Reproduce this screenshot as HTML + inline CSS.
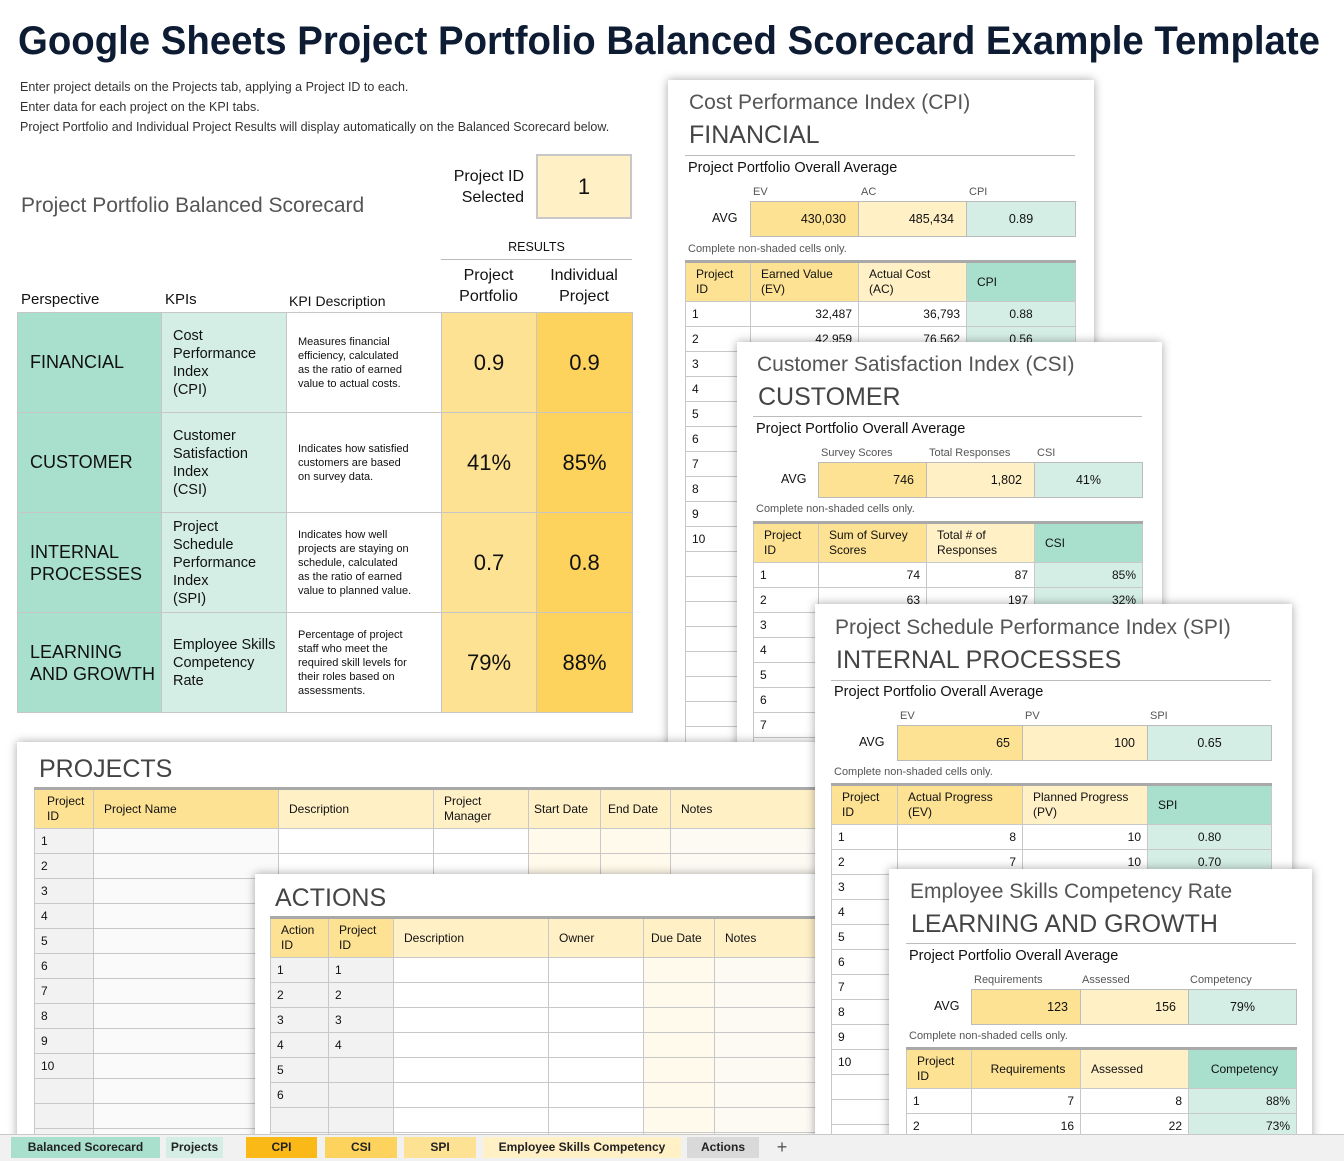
<!DOCTYPE html>
<html><head><meta charset="utf-8">
<style>
*{margin:0;padding:0;box-sizing:border-box}
body{width:1344px;height:1161px;position:relative;overflow:hidden;background:#fff;font-family:"Liberation Sans",sans-serif;color:#111}
.a{position:absolute;white-space:nowrap}
.panel{position:absolute;background:#fff;box-shadow:0 0 9px rgba(0,0,0,.35);overflow:hidden}
.ttl{position:absolute;font-size:21px;color:#555;white-space:nowrap}
.sub{position:absolute;font-size:25px;color:#444;white-space:nowrap}
.hl{position:absolute;height:1px;background:#bbb}
.ppoa{position:absolute;font-size:14.5px;color:#111;white-space:nowrap}
.lab{position:absolute;font-size:11px;color:#555;white-space:nowrap}
.note{position:absolute;font-size:11px;color:#555;white-space:nowrap}
table{position:absolute;border-collapse:collapse;table-layout:fixed}
td{border:1px solid #c8c8c8;font-size:12px;padding:0 6px;white-space:nowrap;overflow:hidden;line-height:15px}
tr.h td{border-top:3px solid #a9a9a9;height:40px;vertical-align:middle;padding-left:10px}
tr.r td{height:25px}
.y1{background:#fde293}.y2{background:#fff0c6}.t1{background:#a8dfcd}.t2{background:#d4eee5}.y0{background:#fdd35d}
.g1{background:#f2f2f2}.g0{background:#fafafa}.c1{background:#fffaeb}.c2{background:#fdf9f3}
.rt{text-align:right}.ct{text-align:center}
.avg td{height:35px;font-size:12.5px;border:1px solid #bbb}
.sc td{border:1px solid #c6c6c6;height:100px;vertical-align:middle}
.tab{position:absolute;top:1137px;height:21px;font-size:12px;text-align:center;line-height:21px;font-weight:bold;color:#222}
</style></head><body>

<svg class="a" style="left:0;top:0" width="1344" height="70"><text x="18" y="54" font-family="Liberation Sans" font-weight="bold" font-size="40" fill="#0d1b33" textLength="1302" lengthAdjust="spacingAndGlyphs">Google Sheets Project Portfolio Balanced Scorecard Example Template</text></svg>
<div class="a" style="left:20px;top:77px;font-size:12.5px;color:#333;line-height:20px">Enter project details on the Projects tab, applying a Project ID to each.<br>Enter data for each project on the KPI tabs.<br>Project Portfolio and Individual Project Results will display automatically on the Balanced Scorecard below.</div>

<div class="a" style="left:21px;top:194px;font-size:21px;color:#555">Project Portfolio Balanced Scorecard</div>
<div class="a" style="left:430px;top:166px;width:94px;text-align:right;font-size:16px;line-height:21px">Project ID<br>Selected</div>
<div class="a" style="left:536px;top:154px;width:96px;height:65px;background:#fff0c6;border:2px solid #c8c8c8;text-align:center;line-height:61px;font-size:22px">1</div>
<div class="a" style="left:441px;top:240px;width:191px;text-align:center;font-size:12.5px">RESULTS</div>
<div class="a" style="left:441px;top:259px;width:191px;height:1px;background:#bbb"></div>
<div class="a" style="left:441px;top:265px;width:95px;text-align:center;font-size:16px;line-height:21px">Project<br>Portfolio</div>
<div class="a" style="left:536px;top:265px;width:96px;text-align:center;font-size:16px;line-height:21px">Individual<br>Project</div>
<div class="a" style="left:21px;top:291px;font-size:15px">Perspective</div>
<div class="a" style="left:165px;top:291px;font-size:15px">KPIs</div>
<div class="a" style="left:289px;top:293px;font-size:14px">KPI Description</div>
<table class="sc" style="left:17px;top:312px;width:615px">
<colgroup><col style="width:144px"><col style="width:125px"><col style="width:155px"><col style="width:95px"><col style="width:96px"></colgroup>
<tr><td class="t1" style="font-size:18px;padding-left:12px">FINANCIAL</td><td class="t2" style="font-size:14.5px;line-height:18px;padding-left:11px">Cost<br>Performance<br>Index<br>(CPI)</td><td style="font-size:11px;line-height:14px;padding-left:11px">Measures financial<br>efficiency, calculated<br>as the ratio of earned<br>value to actual costs.</td><td class="y1 ct" style="font-size:22px">0.9</td><td class="y0 ct" style="font-size:22px">0.9</td></tr>
<tr><td class="t1" style="font-size:18px;padding-left:12px">CUSTOMER</td><td class="t2" style="font-size:14.5px;line-height:18px;padding-left:11px">Customer<br>Satisfaction<br>Index<br>(CSI)</td><td style="font-size:11px;line-height:14px;padding-left:11px">Indicates how satisfied<br>customers are based<br>on survey data.</td><td class="y1 ct" style="font-size:22px">41%</td><td class="y0 ct" style="font-size:22px">85%</td></tr>
<tr><td class="t1" style="font-size:18px;line-height:22px;padding-left:12px">INTERNAL<br>PROCESSES</td><td class="t2" style="font-size:14.5px;line-height:18px;padding-left:11px">Project<br>Schedule<br>Performance<br>Index<br>(SPI)</td><td style="font-size:11px;line-height:14px;padding-left:11px">Indicates how well<br>projects are staying on<br>schedule, calculated<br>as the ratio of earned<br>value to planned value.</td><td class="y1 ct" style="font-size:22px">0.7</td><td class="y0 ct" style="font-size:22px">0.8</td></tr>
<tr><td class="t1" style="font-size:18px;line-height:22px;padding-left:12px">LEARNING<br>AND GROWTH</td><td class="t2" style="font-size:14.5px;line-height:18px;padding-left:11px">Employee Skills<br>Competency<br>Rate</td><td style="font-size:11px;line-height:14px;padding-left:11px">Percentage of project<br>staff who meet the<br>required skill levels for<br>their roles based on<br>assessments.</td><td class="y1 ct" style="font-size:22px">79%</td><td class="y0 ct" style="font-size:22px">88%</td></tr>
</table>

<!-- CPI -->
<div class="panel" style="left:668px;top:80px;width:426px;height:670px">
<div class="ttl" style="left:21px;top:11px">Cost Performance Index (CPI)</div>
<div class="sub" style="left:21px;top:41px">FINANCIAL</div>
<div class="hl" style="left:17px;top:75px;width:390px"></div>
<div class="ppoa" style="left:20px;top:80px">Project Portfolio Overall Average</div>
<div class="lab" style="left:85px;top:106px">EV</div><div class="lab" style="left:193px;top:106px">AC</div><div class="lab" style="left:301px;top:106px">CPI</div>
<div class="a" style="left:44px;top:131px;font-size:12.5px">AVG</div>
<table class="avg" style="left:82px;top:121px;width:325px"><colgroup><col style="width:108px"><col style="width:108px"><col style="width:109px"></colgroup><tr><td class="y1 rt" style="padding-right:12px">430,030</td><td class="y2 rt" style="padding-right:12px">485,434</td><td class="t2 ct">0.89</td></tr></table>
<div class="note" style="left:20px;top:163px">Complete non-shaded cells only.</div>
<table style="left:17px;top:180px;width:390px"><colgroup><col style="width:65px"><col style="width:108px"><col style="width:108px"><col style="width:109px"></colgroup>
<tr class="h"><td class="y1">Project<br>ID</td><td class="y1">Earned Value<br>(EV)</td><td class="y2">Actual Cost<br>(AC)</td><td class="t1">CPI</td></tr>
<tr class="r"><td>1</td><td class="rt">32,487</td><td class="rt">36,793</td><td class="t2 ct">0.88</td></tr>
<tr class="r"><td>2</td><td class="rt">42,959</td><td class="rt">76,562</td><td class="t2 ct">0.56</td></tr>
<tr class="r"><td>3</td><td></td><td></td><td class="t2"></td></tr><tr class="r"><td>4</td><td></td><td></td><td class="t2"></td></tr><tr class="r"><td>5</td><td></td><td></td><td class="t2"></td></tr><tr class="r"><td>6</td><td></td><td></td><td class="t2"></td></tr><tr class="r"><td>7</td><td></td><td></td><td class="t2"></td></tr><tr class="r"><td>8</td><td></td><td></td><td class="t2"></td></tr><tr class="r"><td>9</td><td></td><td></td><td class="t2"></td></tr><tr class="r"><td>10</td><td></td><td></td><td class="t2"></td></tr><tr class="r"><td></td><td></td><td></td><td class="t2"></td></tr><tr class="r"><td></td><td></td><td></td><td class="t2"></td></tr><tr class="r"><td></td><td></td><td></td><td class="t2"></td></tr><tr class="r"><td></td><td></td><td></td><td class="t2"></td></tr><tr class="r"><td></td><td></td><td></td><td class="t2"></td></tr><tr class="r"><td></td><td></td><td></td><td class="t2"></td></tr><tr class="r"><td></td><td></td><td></td><td class="t2"></td></tr><tr class="r"><td></td><td></td><td></td><td class="t2"></td></tr><tr class="r"><td></td><td></td><td></td><td class="t2"></td></tr>
</table></div>

<!-- CSI -->
<div class="panel" style="left:737px;top:342px;width:425px;height:410px">
<div class="ttl" style="left:20px;top:11px">Customer Satisfaction Index (CSI)</div>
<div class="sub" style="left:21px;top:41px">CUSTOMER</div>
<div class="hl" style="left:16px;top:74px;width:389px"></div>
<div class="ppoa" style="left:19px;top:79px">Project Portfolio Overall Average</div>
<div class="lab" style="left:84px;top:105px">Survey Scores</div><div class="lab" style="left:192px;top:105px">Total Responses</div><div class="lab" style="left:300px;top:105px">CSI</div>
<div class="a" style="left:44px;top:130px;font-size:12.5px">AVG</div>
<table class="avg" style="left:81px;top:120px;width:324px"><colgroup><col style="width:108px"><col style="width:108px"><col style="width:108px"></colgroup><tr><td class="y1 rt" style="padding-right:12px">746</td><td class="y2 rt" style="padding-right:12px">1,802</td><td class="t2 ct">41%</td></tr></table>
<div class="note" style="left:19px;top:161px">Complete non-shaded cells only.</div>
<table style="left:16px;top:179px;width:389px"><colgroup><col style="width:65px"><col style="width:108px"><col style="width:108px"><col style="width:108px"></colgroup>
<tr class="h"><td class="y1">Project<br>ID</td><td class="y1">Sum of Survey<br>Scores</td><td class="y2">Total # of<br>Responses</td><td class="t1">CSI</td></tr>
<tr class="r"><td>1</td><td class="rt">74</td><td class="rt">87</td><td class="t2 rt">85%</td></tr>
<tr class="r"><td>2</td><td class="rt">63</td><td class="rt">197</td><td class="t2 rt">32%</td></tr>
<tr class="r"><td>3</td><td></td><td></td><td class="t2"></td></tr><tr class="r"><td>4</td><td></td><td></td><td class="t2"></td></tr><tr class="r"><td>5</td><td></td><td></td><td class="t2"></td></tr><tr class="r"><td>6</td><td></td><td></td><td class="t2"></td></tr><tr class="r"><td>7</td><td></td><td></td><td class="t2"></td></tr><tr class="r"><td>8</td><td></td><td></td><td class="t2"></td></tr>
</table></div>

<!-- PROJECTS -->
<div class="panel" style="left:17px;top:742px;width:900px;height:400px">
<div class="sub" style="left:22px;top:13px;color:#444">PROJECTS</div>
<table style="left:17px;top:45px;width:900px"><colgroup><col style="width:59px"><col style="width:185px"><col style="width:155px"><col style="width:95px"><col style="width:72px"><col style="width:70px"><col style="width:264px"></colgroup>
<tr class="h"><td class="y1" style="padding-left:12px">Project<br>ID</td><td class="y1">Project Name</td><td class="y2">Description</td><td class="y2">Project<br>Manager</td><td class="y2" style="padding-left:5px">Start Date</td><td class="y2" style="padding-left:7px">End Date</td><td class="y2">Notes</td></tr>
<tr class="r"><td class="g1">1</td><td class="g0"></td><td></td><td></td><td class="c1"></td><td class="c1"></td><td class="c2"></td></tr>
<tr class="r"><td class="g1">2</td><td class="g0"></td><td></td><td></td><td class="c1"></td><td class="c1"></td><td class="c2"></td></tr>
<tr class="r"><td class="g1">3</td><td class="g0"></td><td></td><td></td><td class="c1"></td><td class="c1"></td><td class="c2"></td></tr>
<tr class="r"><td class="g1">4</td><td class="g0"></td><td></td><td></td><td class="c1"></td><td class="c1"></td><td class="c2"></td></tr>
<tr class="r"><td class="g1">5</td><td class="g0"></td><td></td><td></td><td class="c1"></td><td class="c1"></td><td class="c2"></td></tr>
<tr class="r"><td class="g1">6</td><td class="g0"></td><td></td><td></td><td class="c1"></td><td class="c1"></td><td class="c2"></td></tr>
<tr class="r"><td class="g1">7</td><td class="g0"></td><td></td><td></td><td class="c1"></td><td class="c1"></td><td class="c2"></td></tr>
<tr class="r"><td class="g1">8</td><td class="g0"></td><td></td><td></td><td class="c1"></td><td class="c1"></td><td class="c2"></td></tr>
<tr class="r"><td class="g1">9</td><td class="g0"></td><td></td><td></td><td class="c1"></td><td class="c1"></td><td class="c2"></td></tr>
<tr class="r"><td class="g1">10</td><td class="g0"></td><td></td><td></td><td class="c1"></td><td class="c1"></td><td class="c2"></td></tr>
<tr class="r"><td class="g1"></td><td class="g0"></td><td></td><td></td><td class="c1"></td><td class="c1"></td><td class="c2"></td></tr>
<tr class="r"><td class="g1"></td><td class="g0"></td><td></td><td></td><td class="c1"></td><td class="c1"></td><td class="c2"></td></tr>
<tr class="r"><td class="g1"></td><td class="g0"></td><td></td><td></td><td class="c1"></td><td class="c1"></td><td class="c2"></td></tr>
</table></div>

<!-- ACTIONS -->
<div class="panel" style="left:255px;top:874px;width:700px;height:270px">
<div class="sub" style="left:20px;top:10px;color:#444">ACTIONS</div>
<table style="left:15px;top:42px;width:700px"><colgroup><col style="width:58px"><col style="width:65px"><col style="width:155px"><col style="width:95px"><col style="width:71px"><col style="width:256px"></colgroup>
<tr class="h"><td class="y1">Action<br>ID</td><td class="y1">Project<br>ID</td><td class="y2">Description</td><td class="y2">Owner</td><td class="y2" style="padding-left:7px">Due Date</td><td class="y2">Notes</td></tr>
<tr class="r"><td class="g1">1</td><td class="g1">1</td><td></td><td></td><td class="c1"></td><td class="c2"></td></tr>
<tr class="r"><td class="g1">2</td><td class="g1">2</td><td></td><td></td><td class="c1"></td><td class="c2"></td></tr>
<tr class="r"><td class="g1">3</td><td class="g1">3</td><td></td><td></td><td class="c1"></td><td class="c2"></td></tr>
<tr class="r"><td class="g1">4</td><td class="g1">4</td><td></td><td></td><td class="c1"></td><td class="c2"></td></tr>
<tr class="r"><td class="g1">5</td><td class="g1"></td><td></td><td></td><td class="c1"></td><td class="c2"></td></tr>
<tr class="r"><td class="g1">6</td><td class="g1"></td><td></td><td></td><td class="c1"></td><td class="c2"></td></tr>
<tr class="r"><td class="g1"></td><td class="g1"></td><td></td><td></td><td class="c1"></td><td class="c2"></td></tr>
<tr class="r"><td class="g1"></td><td class="g1"></td><td></td><td></td><td class="c1"></td><td class="c2"></td></tr>
</table></div>

<!-- SPI -->
<div class="panel" style="left:815px;top:604px;width:477px;height:540px">
<div class="ttl" style="left:20px;top:12px">Project Schedule Performance Index (SPI)</div>
<div class="sub" style="left:21px;top:42px">INTERNAL PROCESSES</div>
<div class="hl" style="left:16px;top:76px;width:440px"></div>
<div class="ppoa" style="left:19px;top:80px">Project Portfolio Overall Average</div>
<div class="lab" style="left:85px;top:106px">EV</div><div class="lab" style="left:210px;top:106px">PV</div><div class="lab" style="left:335px;top:106px">SPI</div>
<div class="a" style="left:44px;top:131px;font-size:12.5px">AVG</div>
<table class="avg" style="left:82px;top:121px;width:374px"><colgroup><col style="width:125px"><col style="width:125px"><col style="width:124px"></colgroup><tr><td class="y1 rt" style="padding-right:12px">65</td><td class="y2 rt" style="padding-right:12px">100</td><td class="t2 ct">0.65</td></tr></table>
<div class="note" style="left:19px;top:162px">Complete non-shaded cells only.</div>
<table style="left:16px;top:179px;width:440px"><colgroup><col style="width:66px"><col style="width:125px"><col style="width:125px"><col style="width:124px"></colgroup>
<tr class="h"><td class="y1">Project<br>ID</td><td class="y1">Actual Progress<br>(EV)</td><td class="y2">Planned Progress<br>(PV)</td><td class="t1">SPI</td></tr>
<tr class="r"><td>1</td><td class="rt">8</td><td class="rt">10</td><td class="t2 ct">0.80</td></tr>
<tr class="r"><td>2</td><td class="rt">7</td><td class="rt">10</td><td class="t2 ct">0.70</td></tr>
<tr class="r"><td>3</td><td></td><td></td><td class="t2"></td></tr><tr class="r"><td>4</td><td></td><td></td><td class="t2"></td></tr><tr class="r"><td>5</td><td></td><td></td><td class="t2"></td></tr><tr class="r"><td>6</td><td></td><td></td><td class="t2"></td></tr><tr class="r"><td>7</td><td></td><td></td><td class="t2"></td></tr><tr class="r"><td>8</td><td></td><td></td><td class="t2"></td></tr><tr class="r"><td>9</td><td></td><td></td><td class="t2"></td></tr><tr class="r"><td>10</td><td></td><td></td><td class="t2"></td></tr><tr class="r"><td></td><td></td><td></td><td class="t2"></td></tr><tr class="r"><td></td><td></td><td></td><td class="t2"></td></tr><tr class="r"><td></td><td></td><td></td><td class="t2"></td></tr>
</table></div>

<!-- ELG -->
<div class="panel" style="left:889px;top:869px;width:423px;height:280px">
<div class="ttl" style="left:21px;top:11px">Employee Skills Competency Rate</div>
<div class="sub" style="left:22px;top:41px">LEARNING AND GROWTH</div>
<div class="hl" style="left:17px;top:74px;width:390px"></div>
<div class="ppoa" style="left:20px;top:79px">Project Portfolio Overall Average</div>
<div class="lab" style="left:85px;top:105px">Requirements</div><div class="lab" style="left:193px;top:105px">Assessed</div><div class="lab" style="left:301px;top:105px">Competency</div>
<div class="a" style="left:45px;top:130px;font-size:12.5px">AVG</div>
<table class="avg" style="left:82px;top:120px;width:325px"><colgroup><col style="width:109px"><col style="width:108px"><col style="width:108px"></colgroup><tr><td class="y1 rt" style="padding-right:12px">123</td><td class="y2 rt" style="padding-right:12px">156</td><td class="t2 ct">79%</td></tr></table>
<div class="note" style="left:20px;top:161px">Complete non-shaded cells only.</div>
<table style="left:17px;top:178px;width:390px"><colgroup><col style="width:65px"><col style="width:109px"><col style="width:108px"><col style="width:108px"></colgroup>
<tr class="h"><td class="y1">Project<br>ID</td><td class="y1 ct">Requirements</td><td class="y2">Assessed</td><td class="t1 ct">Competency</td></tr>
<tr class="r"><td>1</td><td class="rt">7</td><td class="rt">8</td><td class="t2 rt">88%</td></tr>
<tr class="r"><td>2</td><td class="rt">16</td><td class="rt">22</td><td class="t2 rt">73%</td></tr>
<tr class="r"><td>3</td><td></td><td></td><td class="t2"></td></tr>
</table></div>

<!-- tab bar -->
<div class="a" style="left:0;top:1134px;width:1344px;height:27px;background:#f1f1f1;border-top:1px solid #c8c8c8"></div>
<div class="tab" style="left:11px;width:149px;background:#a8dfcd">Balanced Scorecard</div>
<div class="tab" style="left:166px;width:57px;background:#d4eee5">Projects</div>
<div class="tab" style="left:246px;width:71px;background:#fbb917">CPI</div>
<div class="tab" style="left:325px;width:72px;background:#fdd35d">CSI</div>
<div class="tab" style="left:404px;width:72px;background:#fde293">SPI</div>
<div class="tab" style="left:483px;width:198px;background:#fff0c6">Employee Skills Competency</div>
<div class="tab" style="left:687px;width:72px;background:#d9d9d9">Actions</div>
<div class="tab" style="left:770px;width:24px;font-size:18px;font-weight:normal;color:#555">+</div>
</body></html>
